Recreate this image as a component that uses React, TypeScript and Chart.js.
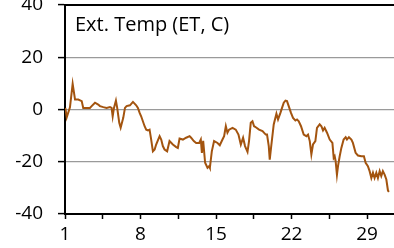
import React, { useEffect, useRef } from "react";
import { Chart, registerables } from "chart.js";

Chart.register(...registerables);

const title = "Ext. Temp (ET, C)";
const xTickValues = [1, 4.5, 8, 11.5, 15, 18.5, 22, 25.5, 29];
const yTickValues = [-40, -20, 0, 20, 40];

const days = [
  1.03, 1.16, 1.46, 1.71, 1.93, 2.23, 2.55, 2.69, 3.31, 3.47, 3.78, 4.08, 4.24, 4.55, 4.86, 5.17, 5.32, 5.42, 5.54, 5.72,
  5.84, 6.03, 6.16, 6.4, 6.56, 6.71, 7.02, 7.3, 7.6, 7.76, 7.92, 8.06, 8.38, 8.53, 8.69, 8.84, 8.99, 9.15, 9.31, 9.45,
  9.77, 9.92, 10.07, 10.23, 10.47, 10.69, 11.0, 11.31, 11.46, 11.62, 11.93, 12.23, 12.55, 12.69, 12.94, 13.16, 13.44, 13.59, 13.69, 13.81,
  13.99, 14.21, 14.36, 14.43, 14.61, 14.82, 15.14, 15.35, 15.6, 15.75, 15.91, 16.06, 16.21, 16.53, 16.83, 17.08, 17.3, 17.51, 17.69, 17.92,
  18.06, 18.22, 18.38, 18.53, 18.69, 18.99, 19.31, 19.61, 19.73, 19.89, 19.98, 20.1, 20.35, 20.6, 20.75, 20.97, 21.12, 21.28, 21.44, 21.58,
  21.74, 21.95, 22.14, 22.36, 22.51, 22.67, 22.88, 23.13, 23.38, 23.53, 23.69, 23.84, 23.99, 24.21, 24.36, 24.61, 24.77, 24.92, 25.07, 25.29,
  25.54, 25.79, 25.91, 26.0, 26.09, 26.21, 26.31, 26.46, 26.62, 26.83, 27.02, 27.14, 27.32, 27.55, 27.69, 27.94, 28.16, 28.47, 28.71, 28.87,
  29.08, 29.24, 29.4, 29.55, 29.7, 29.86, 30.01, 30.17, 30.32, 30.47, 30.63, 30.79, 30.94, 31.03,
];

const temps = [
  0.6, -3, 0.8, 9.8, 3.8, 3.8, 3.2, 0.6, 0.6, 1.3, 2.6, 1.9, 1.3, 0.9, 0.6, 0.9, 0.6, -2.6, 0.6, 3.4,
  0.6, -5.1, -7, -3.2, 0.6, 1.3, 1.6, 2.9, 1.6, 0.6, -1.3, -2.6, -6.4, -7.7, -8, -7.7, -11.5, -16, -15.3, -13.4,
  -10.2, -11.5, -14, -15.3, -16, -12.1, -13.4, -14.4, -14.7, -11.1, -11.5, -10.8, -10.2, -10.8, -12.1, -12.8, -12.8, -11.5, -16.6, -12,
  -20.4, -22.3, -21.7, -22.3, -16, -12.1, -12.8, -13.7, -11.5, -10.2, -6.4, -8.9, -7.7, -7, -7.7, -9.6, -13.4, -10.8, -14, -16.2,
  -12.1, -5.1, -4.5, -6.4, -6.8, -7.7, -8.3, -9.6, -9.6, -14, -19.2, -14.7, -5.7, -1.6, -3.8, -1.3, 0.6, 2.6, 3.4, 3.2,
  1.3, -1.3, -3.2, -4.2, -3.8, -4.5, -6.4, -9.6, -10.2, -9.6, -12.1, -17.2, -13.4, -12.1, -7, -5.7, -6.4, -8, -7, -8.9,
  -11.5, -12.8, -18.5, -17.9, -19.8, -25, -21.7, -18, -14.7, -11.5, -10.6, -11.5, -10.6, -11.5, -12.8, -16.6, -17.6, -17.9, -17.9, -20.4,
  -21.7, -23.6, -26.2, -24.2, -26.2, -24.2, -26.2, -23.6, -25.5, -23.6, -24.9, -26.8, -31, -31.5,
];

const FONT = "'Open Sans'";

export default function App() {
  const ref = useRef<HTMLCanvasElement | null>(null);

  useEffect(() => {
    document.body.style.margin = "0";
    const canvas = ref.current;
    if (!canvas) return;

    const decor = {
      id: "decor",
      afterDraw(chart: any) {
        const { ctx, chartArea } = chart;
        ctx.save();
        ctx.strokeStyle = "#000";
        ctx.lineWidth = 2;
        ctx.beginPath();
        ctx.moveTo(chartArea.left - 1, chartArea.top);
        ctx.lineTo(chartArea.right, chartArea.top);
        ctx.stroke();
        ctx.fillStyle = "#000";
        ctx.font = `20px ${FONT}`;
        ctx.textBaseline = "alphabetic";
        ctx.textAlign = "left";
        ctx.fillText(title, chartArea.left + 10, chartArea.top + 26);
        ctx.restore();
      },
    };

    const chart = new Chart(canvas, {
      type: "line",
      data: {
        datasets: [
          {
            data: days.map((d, i) => ({ x: d, y: temps[i] })),
            borderColor: "#A3540F",
            borderWidth: 2,
            pointRadius: 0,
            tension: 0,
            fill: false,
          },
        ],
      },
      options: {
        responsive: false,
        animation: false,
        devicePixelRatio: 1,
        layout: { padding: { top: 5, right: 0, left: 0, bottom: 0 } },
        plugins: { legend: { display: false }, tooltip: { enabled: false }, title: { display: false } },
        scales: {
          x: {
            type: "linear",
            min: 1,
            max: 31.5,
            afterBuildTicks: (scale: any) => {
              scale.ticks = xTickValues.map((v) => ({ value: v }));
            },
            afterFit: (scale: any) => {
              scale.height = 34;
              scale.paddingLeft = 0;
              scale.paddingRight = 0;
            },
            ticks: {
              autoSkip: false,
              maxRotation: 0,
              padding: 4,
              color: "#000",
              font: { family: FONT, size: 19 },
              callback: (v: any) => (Number.isInteger(v) ? String(v) : ""),
            },
            grid: { drawOnChartArea: false, tickLength: 5, tickColor: "#000", tickWidth: 1.5 },
            border: { color: "#000", width: 2 },
          },
          y: {
            min: -40,
            max: 40,
            afterBuildTicks: (scale: any) => {
              scale.ticks = yTickValues.map((v) => ({ value: v }));
            },
            afterFit: (scale: any) => {
              scale.width = 65;
              scale.paddingTop = 0;
              scale.paddingBottom = 0;
            },
            ticks: {
              padding: 15,
              color: "#000",
              font: { family: FONT, size: 19 },
            },
            grid: {
              color: (c: any) => (Math.abs(c.tick?.value) === 40 ? "rgba(0,0,0,0)" : "#9a9a9a"),
              lineWidth: 1.2,
              tickLength: 7,
              tickColor: "#000",
              tickWidth: 1.5,
            },
            border: { color: "#000", width: 2 },
          },
        },
      },
      plugins: [decor],
    });
    return () => chart.destroy();
  }, []);

  return <canvas ref={ref} width={394} height={248} style={{ display: "block", width: 394, height: 248 }} />;
}
